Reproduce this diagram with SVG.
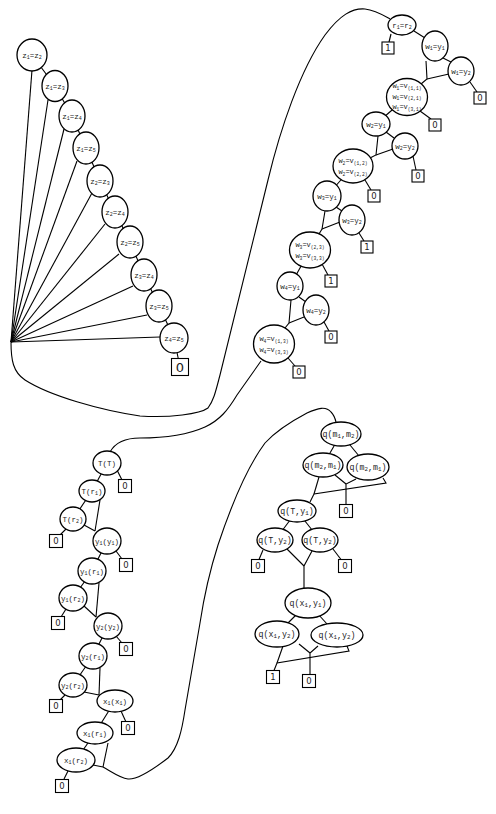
<svg xmlns="http://www.w3.org/2000/svg" width="496" height="814" viewBox="0 0 496 814">
<style>
.n ellipse{fill:#fff;stroke:#000;stroke-width:1.3}
.b rect{fill:#fff;stroke:#000;stroke-width:1.1}
text{font-family:"Liberation Mono","DejaVu Sans Mono",monospace;font-size:7.5px;text-anchor:middle;fill:#222}
.s{font-size:5px}
.m text{font-size:7px}
.m .s{font-size:4.6px}
.b text{font-family:"DejaVu Sans",sans-serif;font-size:8.5px}
.q text{font-size:8.3px}
.q .s{font-size:5.8px}
#e path,#e line,#e polyline{fill:none;stroke:#000;stroke-width:1.1}
</style>
<rect width="496" height="814" fill="#fff"/>
<g id="e">
<path d="M11,342 C11,360 13,372 25,380 C50,396 100,410 140,416 C170,418 200,414 208,408 C214,400 216,390 220,375 L268,180 C280,130 300,70 325,35 C340,15 352,8 365,9 C375,10 383,15 390,19"/>
<path d="M261,361 L237,395 C228,410 220,420 205,427 C185,436 160,438 140,438 C125,438 115,443 110,452"/>
<path d="M103,767 C112,772 120,778 128,779 C138,780 155,768 168,758 C178,748 182,730 185,710 L200,623 C205,590 210,570 218,545 C228,515 245,470 265,443 C275,432 290,422 307,413 C318,408 326,406 331,412 C334,415 335,418 336,422"/>
<line x1="11" y1="342" x2="32" y2="70"/>
<line x1="11" y1="342" x2="48" y2="100"/>
<line x1="11" y1="342" x2="64" y2="129"/>
<line x1="11" y1="342" x2="77" y2="161"/>
<line x1="11" y1="342" x2="92" y2="193"/>
<line x1="11" y1="342" x2="105" y2="224"/>
<line x1="11" y1="342" x2="119" y2="254"/>
<line x1="11" y1="342" x2="133" y2="286"/>
<line x1="11" y1="342" x2="147" y2="315"/>
<line x1="11" y1="342" x2="160" y2="337"/>
<polyline points="32,55 55,86 72,116 86,148 100,181 115,212 130,242 144,275 159,306 174,338 180,367"/>
<line x1="391" y1="34" x2="389" y2="42"/>
<line x1="414" y1="31" x2="425" y2="38"/>
<line x1="443" y1="58" x2="451" y2="62"/>
<polyline points="426,61 427,79 421,84"/>
<line x1="449" y1="74" x2="427" y2="79"/>
<line x1="470" y1="82" x2="477" y2="92"/>
<line x1="420" y1="111" x2="431" y2="119"/>
<line x1="407" y1="97" x2="376" y2="124"/>
<line x1="386" y1="132" x2="394" y2="138"/>
<polyline points="378,136 376,155 370,158"/>
<line x1="393" y1="149" x2="376" y2="155"/>
<line x1="413" y1="156" x2="416" y2="170"/>
<line x1="365" y1="180" x2="371" y2="190"/>
<line x1="353" y1="166" x2="327" y2="196"/>
<line x1="336" y1="207" x2="342" y2="211"/>
<polyline points="325,211 322,229 319,234"/>
<line x1="340" y1="222" x2="322" y2="229"/>
<line x1="359" y1="233" x2="364" y2="241"/>
<line x1="322" y1="264" x2="328" y2="275"/>
<line x1="310" y1="250" x2="290" y2="286"/>
<line x1="299" y1="297" x2="306" y2="302"/>
<polyline points="291,300 289,323 285,328"/>
<line x1="304" y1="317" x2="289" y2="323"/>
<line x1="324" y1="322" x2="329" y2="331"/>
<line x1="288" y1="358" x2="295" y2="366"/>
<line x1="117" y1="470" x2="122" y2="480"/>
<line x1="107" y1="463" x2="92" y2="491"/>
<line x1="92" y1="491" x2="73" y2="519"/>
<line x1="100" y1="500" x2="95" y2="531"/>
<line x1="84" y1="525" x2="95" y2="531"/>
<line x1="66" y1="529" x2="60" y2="535"/>
<line x1="116" y1="551" x2="122" y2="559"/>
<line x1="107" y1="541" x2="92" y2="571"/>
<line x1="92" y1="571" x2="73" y2="598"/>
<line x1="99" y1="583" x2="96" y2="617"/>
<line x1="84" y1="606" x2="96" y2="617"/>
<line x1="66" y1="609" x2="61" y2="617"/>
<line x1="116" y1="636" x2="122" y2="643"/>
<line x1="108" y1="626" x2="93" y2="656"/>
<line x1="93" y1="656" x2="73" y2="685"/>
<line x1="100" y1="668" x2="99" y2="695"/>
<line x1="84" y1="692" x2="99" y2="695"/>
<line x1="65" y1="695" x2="60" y2="700"/>
<line x1="115" y1="701" x2="95" y2="733"/>
<line x1="121" y1="711" x2="126" y2="722"/>
<line x1="95" y1="733" x2="76" y2="760"/>
<line x1="108" y1="743" x2="103" y2="767"/>
<line x1="93" y1="765" x2="103" y2="767"/>
<line x1="68" y1="771" x2="64" y2="779"/>
<line x1="341" y1="434" x2="323" y2="465"/>
<line x1="341" y1="434" x2="368" y2="467"/>
<line x1="319" y1="477" x2="314" y2="494"/>
<polyline points="383,478 386,483 314,494 310,502"/>
<line x1="335" y1="475" x2="346" y2="484"/>
<polyline points="356,479 346,484 346,504.5"/>
<line x1="297" y1="511" x2="275" y2="540"/>
<line x1="297" y1="511" x2="320" y2="540"/>
<line x1="263" y1="550" x2="259" y2="559.5"/>
<line x1="333" y1="549" x2="341" y2="559.5"/>
<line x1="287" y1="549" x2="304" y2="566"/>
<polyline points="312,551 304,566 304,588"/>
<line x1="308" y1="603" x2="277" y2="634"/>
<line x1="308" y1="603" x2="337" y2="635"/>
<line x1="283" y1="646" x2="277" y2="663"/>
<polyline points="347,646 349,651 277,663 274,670.5"/>
<line x1="299" y1="644" x2="310" y2="653"/>
<polyline points="318,646 310,653 310,674.5"/>
</g>
<g id="z12" class="n"><ellipse cx="32" cy="55" rx="15" ry="16"/><text x="32" y="57.5">z<tspan class="s" dy="1.5">1</tspan><tspan dy="-1.5">=z</tspan><tspan class="s" dy="1.5">2</tspan></text></g>
<g id="z13" class="n"><ellipse cx="55" cy="86" rx="13" ry="15.5"/><text x="55" y="88.5">z<tspan class="s" dy="1.5">1</tspan><tspan dy="-1.5">=z</tspan><tspan class="s" dy="1.5">3</tspan></text></g>
<g id="z14" class="n"><ellipse cx="72" cy="116" rx="13" ry="16"/><text x="72" y="118.5">z<tspan class="s" dy="1.5">1</tspan><tspan dy="-1.5">=z</tspan><tspan class="s" dy="1.5">4</tspan></text></g>
<g id="z15" class="n"><ellipse cx="86" cy="148" rx="13" ry="16"/><text x="86" y="150.5">z<tspan class="s" dy="1.5">1</tspan><tspan dy="-1.5">=z</tspan><tspan class="s" dy="1.5">5</tspan></text></g>
<g id="z23" class="n"><ellipse cx="100" cy="181" rx="13" ry="16"/><text x="100" y="183.5">z<tspan class="s" dy="1.5">2</tspan><tspan dy="-1.5">=z</tspan><tspan class="s" dy="1.5">3</tspan></text></g>
<g id="z24" class="n"><ellipse cx="115" cy="212" rx="13" ry="16"/><text x="115" y="214.5">z<tspan class="s" dy="1.5">2</tspan><tspan dy="-1.5">=z</tspan><tspan class="s" dy="1.5">4</tspan></text></g>
<g id="z25" class="n"><ellipse cx="130" cy="242" rx="13" ry="16"/><text x="130" y="244.5">z<tspan class="s" dy="1.5">2</tspan><tspan dy="-1.5">=z</tspan><tspan class="s" dy="1.5">5</tspan></text></g>
<g id="z34" class="n"><ellipse cx="144" cy="275" rx="13" ry="16"/><text x="144" y="277.5">z<tspan class="s" dy="1.5">3</tspan><tspan dy="-1.5">=z</tspan><tspan class="s" dy="1.5">4</tspan></text></g>
<g id="z35" class="n"><ellipse cx="159" cy="306" rx="13" ry="16"/><text x="159" y="308.5">z<tspan class="s" dy="1.5">3</tspan><tspan dy="-1.5">=z</tspan><tspan class="s" dy="1.5">5</tspan></text></g>
<g id="z45" class="n"><ellipse cx="174" cy="338" rx="14" ry="15"/><text x="174" y="340.5">z<tspan class="s" dy="1.5">4</tspan><tspan dy="-1.5">=z</tspan><tspan class="s" dy="1.5">5</tspan></text></g>
<g id="bz" class="b"><rect x="171.5" y="358.5" width="17" height="17"/><text x="180" y="372" style="font-size:13px">0</text></g>
<g id="r12" class="n"><ellipse cx="402" cy="25" rx="14" ry="10"/><text x="402" y="27.5">r<tspan class="s" dy="1.5">1</tspan><tspan dy="-1.5">=r</tspan><tspan class="s" dy="1.5">2</tspan></text></g>
<g id="w1y1" class="n"><ellipse cx="435" cy="46" rx="13" ry="15"/><text x="435" y="48.5">w<tspan class="s" dy="1.5">1</tspan><tspan dy="-1.5">=y</tspan><tspan class="s" dy="1.5">1</tspan></text></g>
<g id="w1y2" class="n"><ellipse cx="461" cy="71" rx="13" ry="14"/><text x="461" y="73.5">w<tspan class="s" dy="1.5">1</tspan><tspan dy="-1.5">=y</tspan><tspan class="s" dy="1.5">2</tspan></text></g>
<g id="w1v" class="n m"><ellipse cx="407" cy="97" rx="20.5" ry="18.5"/><text x="407" y="88">w<tspan class="s" dy="1.5">1</tspan><tspan dy="-1.5">=v</tspan><tspan class="s" dy="1.5">(1,1)</tspan></text><text x="407" y="98.5">w<tspan class="s" dy="1.5">1</tspan><tspan dy="-1.5">=v</tspan><tspan class="s" dy="1.5">(2,1)</tspan></text><text x="407" y="109">w<tspan class="s" dy="1.5">1</tspan><tspan dy="-1.5">=v</tspan><tspan class="s" dy="1.5">(3,1)</tspan></text></g>
<g id="w2y1" class="n"><ellipse cx="376" cy="124" rx="14" ry="12"/><text x="376" y="126.5">w<tspan class="s" dy="1.5">2</tspan><tspan dy="-1.5">=y</tspan><tspan class="s" dy="1.5">1</tspan></text></g>
<g id="w2y2" class="n"><ellipse cx="405" cy="146" rx="13" ry="13"/><text x="405" y="148.5">w<tspan class="s" dy="1.5">2</tspan><tspan dy="-1.5">=y</tspan><tspan class="s" dy="1.5">2</tspan></text></g>
<g id="w2v" class="n m"><ellipse cx="353" cy="166" rx="20" ry="17"/><text x="353" y="163">w<tspan class="s" dy="1.5">2</tspan><tspan dy="-1.5">=v</tspan><tspan class="s" dy="1.5">(1,2)</tspan></text><text x="353" y="174">w<tspan class="s" dy="1.5">2</tspan><tspan dy="-1.5">=v</tspan><tspan class="s" dy="1.5">(2,2)</tspan></text></g>
<g id="w3y1" class="n"><ellipse cx="327" cy="196" rx="14" ry="15"/><text x="327" y="198.5">w<tspan class="s" dy="1.5">3</tspan><tspan dy="-1.5">=y</tspan><tspan class="s" dy="1.5">1</tspan></text></g>
<g id="w3y2" class="n"><ellipse cx="352" cy="220" rx="13" ry="15"/><text x="352" y="222.5">w<tspan class="s" dy="1.5">3</tspan><tspan dy="-1.5">=y</tspan><tspan class="s" dy="1.5">2</tspan></text></g>
<g id="w3v" class="n m"><ellipse cx="310" cy="250" rx="20.5" ry="18"/><text x="310" y="247">w<tspan class="s" dy="1.5">3</tspan><tspan dy="-1.5">=v</tspan><tspan class="s" dy="1.5">(2,3)</tspan></text><text x="310" y="258">w<tspan class="s" dy="1.5">3</tspan><tspan dy="-1.5">=v</tspan><tspan class="s" dy="1.5">(3,3)</tspan></text></g>
<g id="w4y1" class="n"><ellipse cx="290" cy="286" rx="13" ry="14"/><text x="290" y="288.5">w<tspan class="s" dy="1.5">4</tspan><tspan dy="-1.5">=y</tspan><tspan class="s" dy="1.5">1</tspan></text></g>
<g id="w4y2" class="n"><ellipse cx="316" cy="310" rx="13" ry="15"/><text x="316" y="312.5">w<tspan class="s" dy="1.5">4</tspan><tspan dy="-1.5">=y</tspan><tspan class="s" dy="1.5">2</tspan></text></g>
<g id="w4v" class="n m"><ellipse cx="274" cy="344" rx="20.5" ry="19"/><text x="274" y="341">w<tspan class="s" dy="1.5">4</tspan><tspan dy="-1.5">=v</tspan><tspan class="s" dy="1.5">(1,3)</tspan></text><text x="274" y="352">w<tspan class="s" dy="1.5">4</tspan><tspan dy="-1.5">=v</tspan><tspan class="s" dy="1.5">(3,3)</tspan></text></g>
<g id="bR1" class="b"><rect x="382" y="42" width="12" height="12"/><text x="388" y="51">1</text></g>
<g id="bR2" class="b"><rect x="474" y="92" width="12" height="12"/><text x="480" y="101">0</text></g>
<g id="bR3" class="b"><rect x="429" y="119" width="12" height="12"/><text x="435" y="128">0</text></g>
<g id="bR4" class="b"><rect x="412" y="170" width="12" height="12"/><text x="418" y="179">0</text></g>
<g id="bR5" class="b"><rect x="368" y="190" width="12" height="12"/><text x="374" y="199">0</text></g>
<g id="bR6" class="b"><rect x="361" y="241" width="12" height="12"/><text x="367" y="250">1</text></g>
<g id="bR7" class="b"><rect x="325" y="275" width="12" height="12"/><text x="331" y="284">1</text></g>
<g id="bR8" class="b"><rect x="325" y="331" width="12" height="12"/><text x="331" y="340">0</text></g>
<g id="bR9" class="b"><rect x="293" y="366" width="12" height="12"/><text x="299" y="375">0</text></g>
<g id="TT" class="n"><ellipse cx="107" cy="463" rx="14" ry="12"/><text x="107" y="465.5">T(T)</text></g>
<g id="Tr1" class="n"><ellipse cx="92" cy="491" rx="13" ry="11"/><text x="92" y="493.5">T(r<tspan class="s" dy="1.5">1</tspan><tspan dy="-1.5">)</tspan></text></g>
<g id="Tr2" class="n"><ellipse cx="73" cy="519" rx="13" ry="12"/><text x="73" y="521.5">T(r<tspan class="s" dy="1.5">2</tspan><tspan dy="-1.5">)</tspan></text></g>
<g id="y1y1" class="n"><ellipse cx="107" cy="541" rx="14" ry="13"/><text x="107" y="543.5">y<tspan class="s" dy="1.5">1</tspan><tspan dy="-1.5">(y</tspan><tspan class="s" dy="1.5">1</tspan><tspan dy="-1.5">)</tspan></text></g>
<g id="y1r1" class="n"><ellipse cx="92" cy="571" rx="14" ry="13"/><text x="92" y="573.5">y<tspan class="s" dy="1.5">1</tspan><tspan dy="-1.5">(r</tspan><tspan class="s" dy="1.5">1</tspan><tspan dy="-1.5">)</tspan></text></g>
<g id="y1r2" class="n"><ellipse cx="73" cy="598" rx="14" ry="13"/><text x="73" y="600.5">y<tspan class="s" dy="1.5">1</tspan><tspan dy="-1.5">(r</tspan><tspan class="s" dy="1.5">2</tspan><tspan dy="-1.5">)</tspan></text></g>
<g id="y2y2" class="n"><ellipse cx="108" cy="626" rx="14" ry="13"/><text x="108" y="628.5">y<tspan class="s" dy="1.5">2</tspan><tspan dy="-1.5">(y</tspan><tspan class="s" dy="1.5">2</tspan><tspan dy="-1.5">)</tspan></text></g>
<g id="y2r1" class="n"><ellipse cx="93" cy="656" rx="14" ry="13"/><text x="93" y="658.5">y<tspan class="s" dy="1.5">2</tspan><tspan dy="-1.5">(r</tspan><tspan class="s" dy="1.5">1</tspan><tspan dy="-1.5">)</tspan></text></g>
<g id="y2r2" class="n"><ellipse cx="73" cy="685" rx="14" ry="12"/><text x="73" y="687.5">y<tspan class="s" dy="1.5">2</tspan><tspan dy="-1.5">(r</tspan><tspan class="s" dy="1.5">2</tspan><tspan dy="-1.5">)</tspan></text></g>
<g id="x1x1" class="n"><ellipse cx="115" cy="701" rx="18" ry="11"/><text x="115" y="703.5">x<tspan class="s" dy="1.5">1</tspan><tspan dy="-1.5">(x</tspan><tspan class="s" dy="1.5">1</tspan><tspan dy="-1.5">)</tspan></text></g>
<g id="x1r1" class="n"><ellipse cx="95" cy="733" rx="18" ry="11"/><text x="95" y="735.5">x<tspan class="s" dy="1.5">1</tspan><tspan dy="-1.5">(r</tspan><tspan class="s" dy="1.5">1</tspan><tspan dy="-1.5">)</tspan></text></g>
<g id="x1r2" class="n"><ellipse cx="76" cy="760" rx="19" ry="12"/><text x="76" y="762.5">x<tspan class="s" dy="1.5">1</tspan><tspan dy="-1.5">(r</tspan><tspan class="s" dy="1.5">2</tspan><tspan dy="-1.5">)</tspan></text></g>
<g id="bL1" class="b"><rect x="118.5" y="479.5" width="13" height="13"/><text x="125" y="489">0</text></g>
<g id="bL2" class="b"><rect x="49.5" y="534.5" width="13" height="13"/><text x="56" y="544">0</text></g>
<g id="bL3" class="b"><rect x="119.5" y="558.5" width="13" height="13"/><text x="126" y="568">0</text></g>
<g id="bL4" class="b"><rect x="51.5" y="616.5" width="13" height="13"/><text x="58" y="626">0</text></g>
<g id="bL5" class="b"><rect x="119.5" y="642.5" width="13" height="13"/><text x="126" y="652">0</text></g>
<g id="bL6" class="b"><rect x="49.5" y="699.5" width="13" height="13"/><text x="56" y="709">0</text></g>
<g id="bL7" class="b"><rect x="121.5" y="721.5" width="13" height="13"/><text x="128" y="731">0</text></g>
<g id="bL8" class="b"><rect x="55.5" y="779.5" width="13" height="13"/><text x="62" y="789">0</text></g>
<g id="qm12" class="n q"><ellipse cx="341" cy="434" rx="20" ry="12"/><text x="341" y="436.5">q(m<tspan class="s" dy="1.5">1</tspan><tspan dy="-1.5">,m</tspan><tspan class="s" dy="1.5">2</tspan><tspan dy="-1.5">)</tspan></text></g>
<g id="qm21a" class="n q"><ellipse cx="323" cy="465" rx="20" ry="12"/><text x="323" y="467.5">q(m<tspan class="s" dy="1.5">2</tspan><tspan dy="-1.5">,m</tspan><tspan class="s" dy="1.5">1</tspan><tspan dy="-1.5">)</tspan></text></g>
<g id="qm21b" class="n q"><ellipse cx="368" cy="467" rx="21" ry="13"/><text x="368" y="469.5">q(m<tspan class="s" dy="1.5">2</tspan><tspan dy="-1.5">,m</tspan><tspan class="s" dy="1.5">1</tspan><tspan dy="-1.5">)</tspan></text></g>
<g id="qTy1" class="n q"><ellipse cx="297" cy="511" rx="19" ry="11"/><text x="297" y="513.5">q(T,y<tspan class="s" dy="1.5">1</tspan><tspan dy="-1.5">)</tspan></text></g>
<g id="qTy2a" class="n q"><ellipse cx="275" cy="540" rx="18" ry="12"/><text x="275" y="542.5">q(T,y<tspan class="s" dy="1.5">2</tspan><tspan dy="-1.5">)</tspan></text></g>
<g id="qTy2b" class="n q"><ellipse cx="320" cy="540" rx="18" ry="12"/><text x="320" y="542.5">q(T,y<tspan class="s" dy="1.5">2</tspan><tspan dy="-1.5">)</tspan></text></g>
<g id="qx1y1" class="n q"><ellipse cx="308" cy="603" rx="23" ry="15"/><text x="308" y="605.5">q(x<tspan class="s" dy="1.5">1</tspan><tspan dy="-1.5">,y</tspan><tspan class="s" dy="1.5">1</tspan><tspan dy="-1.5">)</tspan></text></g>
<g id="qx1y2a" class="n q"><ellipse cx="277" cy="634" rx="22" ry="13"/><text x="277" y="636.5">q(x<tspan class="s" dy="1.5">1</tspan><tspan dy="-1.5">,y</tspan><tspan class="s" dy="1.5">2</tspan><tspan dy="-1.5">)</tspan></text></g>
<g id="qx1y2b" class="n q"><ellipse cx="337" cy="635" rx="26" ry="12"/><text x="337" y="637.5">q(x<tspan class="s" dy="1.5">1</tspan><tspan dy="-1.5">,y</tspan><tspan class="s" dy="1.5">2</tspan><tspan dy="-1.5">)</tspan></text></g>
<g id="bQ1" class="b"><rect x="339.5" y="504.5" width="13" height="13"/><text x="346" y="514">0</text></g>
<g id="bQ2" class="b"><rect x="251.5" y="559.5" width="13" height="13"/><text x="258" y="569">0</text></g>
<g id="bQ3" class="b"><rect x="338.5" y="559.5" width="13" height="13"/><text x="345" y="569">0</text></g>
<g id="bQ4" class="b"><rect x="266.5" y="670.5" width="13" height="13"/><text x="273" y="680">1</text></g>
<g id="bQ5" class="b"><rect x="302.5" y="674.5" width="13" height="13"/><text x="309" y="684">0</text></g>
</svg>
